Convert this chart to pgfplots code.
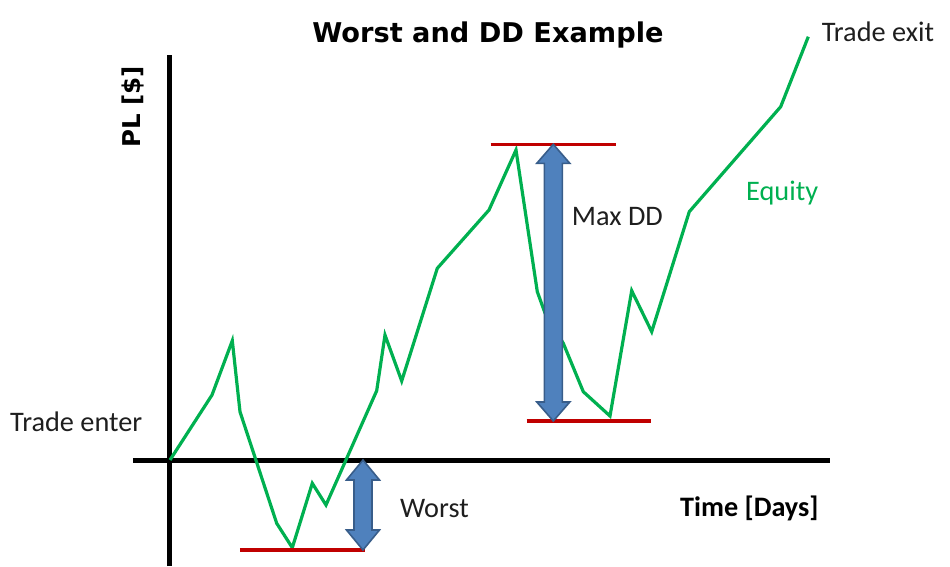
\documentclass[border=0pt]{standalone}
\usepackage{fontspec}
\setmainfont{Carlito}
\newfontfamily\titlefont{DejaVu Sans}
\usepackage{pgfplots}
\pgfplotsset{compat=1.18}
\definecolor{eqgreen}{RGB}{0,176,80}
\definecolor{ddred}{RGB}{192,0,0}
\definecolor{arrfill}{RGB}{79,129,189}
\definecolor{arrdraw}{RGB}{56,93,138}
\definecolor{txt}{RGB}{30,30,30}
\begin{document}
\begin{tikzpicture}
\begin{axis}[
  scale only axis, width=697pt, height=511pt,
  xmin=-3.7, xmax=66, ymin=-10.6, ymax=40.5,
  axis lines=middle,
  axis line style={line width=5pt, -, black},
  ticks=none,
  clip=false,
]
% equity curve
\addplot[eqgreen, line width=3.2pt, line join=miter] coordinates {
(0,0) (4.2,6.5) (6.23,11.93) (7.0,4.83) (10.67,-6.33) (12.23,-8.77)
(14.23,-2.33) (15.6,-4.5) (20.67,6.93) (21.5,12.5) (23.17,7.9)
(26.73,19.17) (31.9,25.0) (34.6,31.0) (36.73,16.83) (37.5,14.7)
(39.33,11.67) (41.33,6.83) (44.0,4.4) (46.17,16.93) (48.17,12.83)
(51.93,24.83) (61.07,35.33) (63.83,42.33)};
% red reference lines
\addplot[ddred, line width=3.4pt] coordinates {(32.07,31.57) (44.6,31.57)};
\addplot[ddred, line width=3.4pt] coordinates {(35.67,3.9) (48.1,3.9)};
\addplot[ddred, line width=3.4pt] coordinates {(7.0,-9.0) (19.5,-9.0)};
% Max DD double arrow
\addplot[draw=arrdraw, fill=arrfill, line width=1.6pt] coordinates {
(38.33,31.57) (39.98,29.67) (39.23,29.67) (39.23,5.8) (39.98,5.8)
(38.33,3.9) (36.68,5.8) (37.43,5.8) (37.43,29.67) (36.68,29.67)} -- cycle;
% Worst double arrow
\addplot[draw=arrdraw, fill=arrfill, line width=1.6pt] coordinates {
(19.3,0) (20.95,-2.0) (20.2,-2.0) (20.2,-7.0) (20.95,-7.0)
(19.3,-9.0) (17.65,-7.0) (18.4,-7.0) (18.4,-2.0) (17.65,-2.0)} -- cycle;
% texts
\node[anchor=base, font=\titlefont\bfseries\fontsize{27.2}{30}\selectfont] at (axis cs:31.8,41.7) {Worst and DD Example};
\node[anchor=base west, rotate=90, inner sep=0pt, font=\titlefont\bfseries\fontsize{24.5}{28}\selectfont] at (axis cs:-2.93,31.2) {PL [\$]};
\node[anchor=base west, inner sep=0pt, font=\bfseries\fontsize{28.2}{30}\selectfont] at (axis cs:51.0,-5.6) {Time [Days]};
\node[anchor=base west, inner sep=0pt, text=txt, font=\fontsize{28.3}{30}\selectfont] at (axis cs:23.0,-5.7) {Worst};
\node[anchor=base west, inner sep=0pt, text=txt, font=\fontsize{28.3}{30}\selectfont] at (axis cs:-16.0,2.9) {Trade enter};
\node[anchor=base west, inner sep=0pt, text=txt, font=\fontsize{28.3}{30}\selectfont] at (axis cs:65.17,41.8) {Trade exit};
\node[anchor=base west, inner sep=0pt, text=txt, font=\fontsize{28.3}{30}\selectfont] at (axis cs:40.17,23.5) {Max DD};
\node[anchor=base west, inner sep=0pt, text=eqgreen, font=\fontsize{28.3}{30}\selectfont] at (axis cs:57.6,26.0) {Equity};
\coordinate (bl) at (axis cs:-17,-10.6);
\coordinate (tr) at (axis cs:78,46);
\end{axis}
\pgfresetboundingbox
\path (bl) rectangle (tr);
\end{tikzpicture}
\end{document}
